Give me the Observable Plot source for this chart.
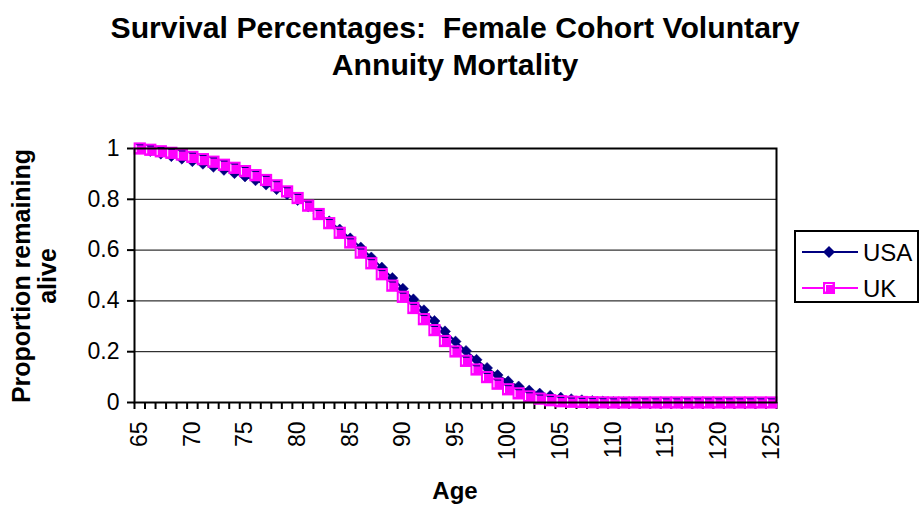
<!DOCTYPE html>
<html><head><meta charset="utf-8">
<script src="https://cdn.jsdelivr.net/npm/d3@7"></script>
<script src="https://cdn.jsdelivr.net/npm/@observablehq/plot@0.6"></script>
<style>
body{margin:0;background:#fff;font-family:"Liberation Sans",Arial,sans-serif;}
#wrap{position:relative;width:920px;height:506px;overflow:hidden;background:#fff;}
#chart{position:absolute;left:0;top:0;}
#title{position:absolute;left:0;top:9px;width:910px;text-align:center;font-weight:bold;font-size:30.2px;line-height:37px;color:#000;}
#ytitle{position:absolute;left:-116px;top:250px;width:300px;height:52px;text-align:center;font-weight:bold;font-size:25px;line-height:26px;transform:rotate(-90deg);transform-origin:50% 50%;}
#xtitle{position:absolute;left:355px;top:478px;width:200px;text-align:center;font-weight:bold;font-size:24px;line-height:26px;}
#legend{position:absolute;left:794px;top:230px;width:125px;height:73px;box-sizing:border-box;border:2px solid #000;background:#fff;}
</style>
</head><body>
<div id="wrap">
  <div id="chart"></div>
  <div id="title">Survival Percentages:&nbsp; Female Cohort Voluntary<br>Annuity Mortality</div>
  <div id="ytitle">Proportion remaining<br>alive</div>
  <div id="xtitle">Age</div>
  <div id="legend"></div>
</div>
<script>
// ---- data ----
const ages = d3.range(65, 126);
const usa = [1.000,0.990,0.980,0.970,0.960,0.950,0.940,0.928,0.916,0.903,
             0.890,0.875,0.858,0.840,0.820,0.797,0.772,0.744,0.713,0.681,
             0.646,0.610,0.571,0.531,0.490,0.448,0.406,0.363,0.321,0.280,
             0.240,0.203,0.168,0.136,0.108,0.083,0.063,0.047,0.035,0.026,
             0.019,0.013,0.009,0.006,0.004,0.002,0.001,0.0005,0,0,
             0,0,0,0,0,0,0,0,0,0,0];
const uk  = [1.000,0.995,0.989,0.983,0.976,0.967,0.958,0.948,0.936,0.924,
             0.911,0.895,0.876,0.855,0.831,0.805,0.775,0.742,0.706,0.668,
             0.630,0.590,0.548,0.505,0.460,0.416,0.372,0.328,0.285,0.242,
             0.201,0.164,0.130,0.100,0.074,0.052,0.036,0.024,0.015,0.009,
             0.005,0.003,0.002,0.001,0.0005,0,0,0,0,0,
             0,0,0,0,0,0,0,0,0,0,0];
const seriesNames = ["USA", "UK"];
const xTickLabels = d3.range(65, 126, 5);
const yTicks = [0, 0.2, 0.4, 0.6, 0.8, 1];
const yTickLabels = ["0", "0.2", "0.4", "0.6", "0.8", "1"];

const NAVY = "#000080", MAGENTA = "#FF00FF";
const rows = ages.map((a, i) => ({age: a, usa: usa[i], uk: uk[i]}));
const bounds = d3.range(64.5, 126, 1);

// inner highlight of the square marker
const topLine = {draw(ctx, size) { const s = Math.sqrt(size) / 2 - 2.5; ctx.moveTo(-s, -s); ctx.lineTo(s, -s); }};
const leftLine = {draw(ctx, size) { const s = Math.sqrt(size) / 2 - 2.5; ctx.moveTo(-s, -s); ctx.lineTo(-s, s); }};

const chart = Plot.plot({
  width: 920, height: 506,
  marginLeft: 134, marginRight: 144, marginTop: 148, marginBottom: 104,
  style: {fontFamily: "Liberation Sans, Arial, sans-serif", fontSize: "23px", color: "#000", background: "transparent"},
  x: {type: "linear", domain: [64.5, 125.5]},
  y: {domain: [0, 1]},
  marks: [
    Plot.gridY(yTicks.slice(1), {stroke: "#000", strokeOpacity: 1, strokeWidth: 1}),
    Plot.axisY({ticks: yTicks, tickFormat: d => yTickLabels[yTicks.indexOf(d)], tickSize: 7, tickPadding: 8, strokeWidth: 2, fontSize: 23, label: null}),
    Plot.axisX({ticks: bounds, tickFormat: () => "", tickSize: 7, strokeWidth: 2, label: null}),
    Plot.axisX({ticks: xTickLabels, tickFormat: d => String(d), tickSize: 0, tickPadding: 19, tickRotate: -90, fontSize: 23, label: null}),
    Plot.line(rows, {x: "age", y: "usa", stroke: NAVY, strokeWidth: 2}),
    Plot.dot(rows, {x: "age", y: "usa", symbol: "diamond2", r: 5, fill: NAVY, stroke: NAVY, strokeWidth: 0.5}),
    Plot.line(rows, {x: "age", y: "uk", stroke: MAGENTA, strokeWidth: 2}),
    Plot.dot(rows, {x: "age", y: "uk", symbol: "square", r: 6.9, fill: MAGENTA, stroke: "none"}),
    Plot.dot(rows, {x: "age", y: "uk", symbol: topLine, r: 6.9, fill: "none", stroke: NAVY, strokeWidth: 1}),
    Plot.dot(rows, {x: "age", y: "uk", symbol: leftLine, r: 6.9, fill: "none", stroke: "#fff", strokeWidth: 1}),
    Plot.frame({stroke: "#000", strokeWidth: 2})
  ]
});
document.getElementById("chart").appendChild(chart);

// legend
const lg = d3.select("#legend").append("svg").attr("width", 121).attr("height", 69)
  .style("position", "absolute").style("left", "0").style("top", "0");
const items = [
  {name: seriesNames[0], color: NAVY, y: 20, sym: "diamond"},
  {name: seriesNames[1], color: MAGENTA, y: 56, sym: "square"}
];
items.forEach(it => {
  lg.append("line").attr("x1", 6).attr("x2", 62).attr("y1", it.y).attr("y2", it.y).attr("stroke", it.color).attr("stroke-width", 2);
  if (it.sym === "diamond") {
    lg.append("path").attr("transform", `translate(33,${it.y})`).attr("d", "M0,-6L6,0L0,6L-6,0Z").attr("fill", it.color);
  } else {
    lg.append("rect").attr("x", 27).attr("y", it.y - 6).attr("width", 12).attr("height", 12).attr("fill", it.color);
    lg.append("path").attr("d", `M29.5,${it.y + 3.5}V${it.y - 3.5}H36.5`).attr("stroke", "#fff").attr("fill", "none").attr("stroke-width", 1);
  }
  lg.append("text").attr("x", 67).attr("y", it.y + 8.5).attr("font-size", 24).attr("font-family", "Liberation Sans, Arial, sans-serif").attr("fill", "#000").text(it.name);
});
</script>
</body></html>
